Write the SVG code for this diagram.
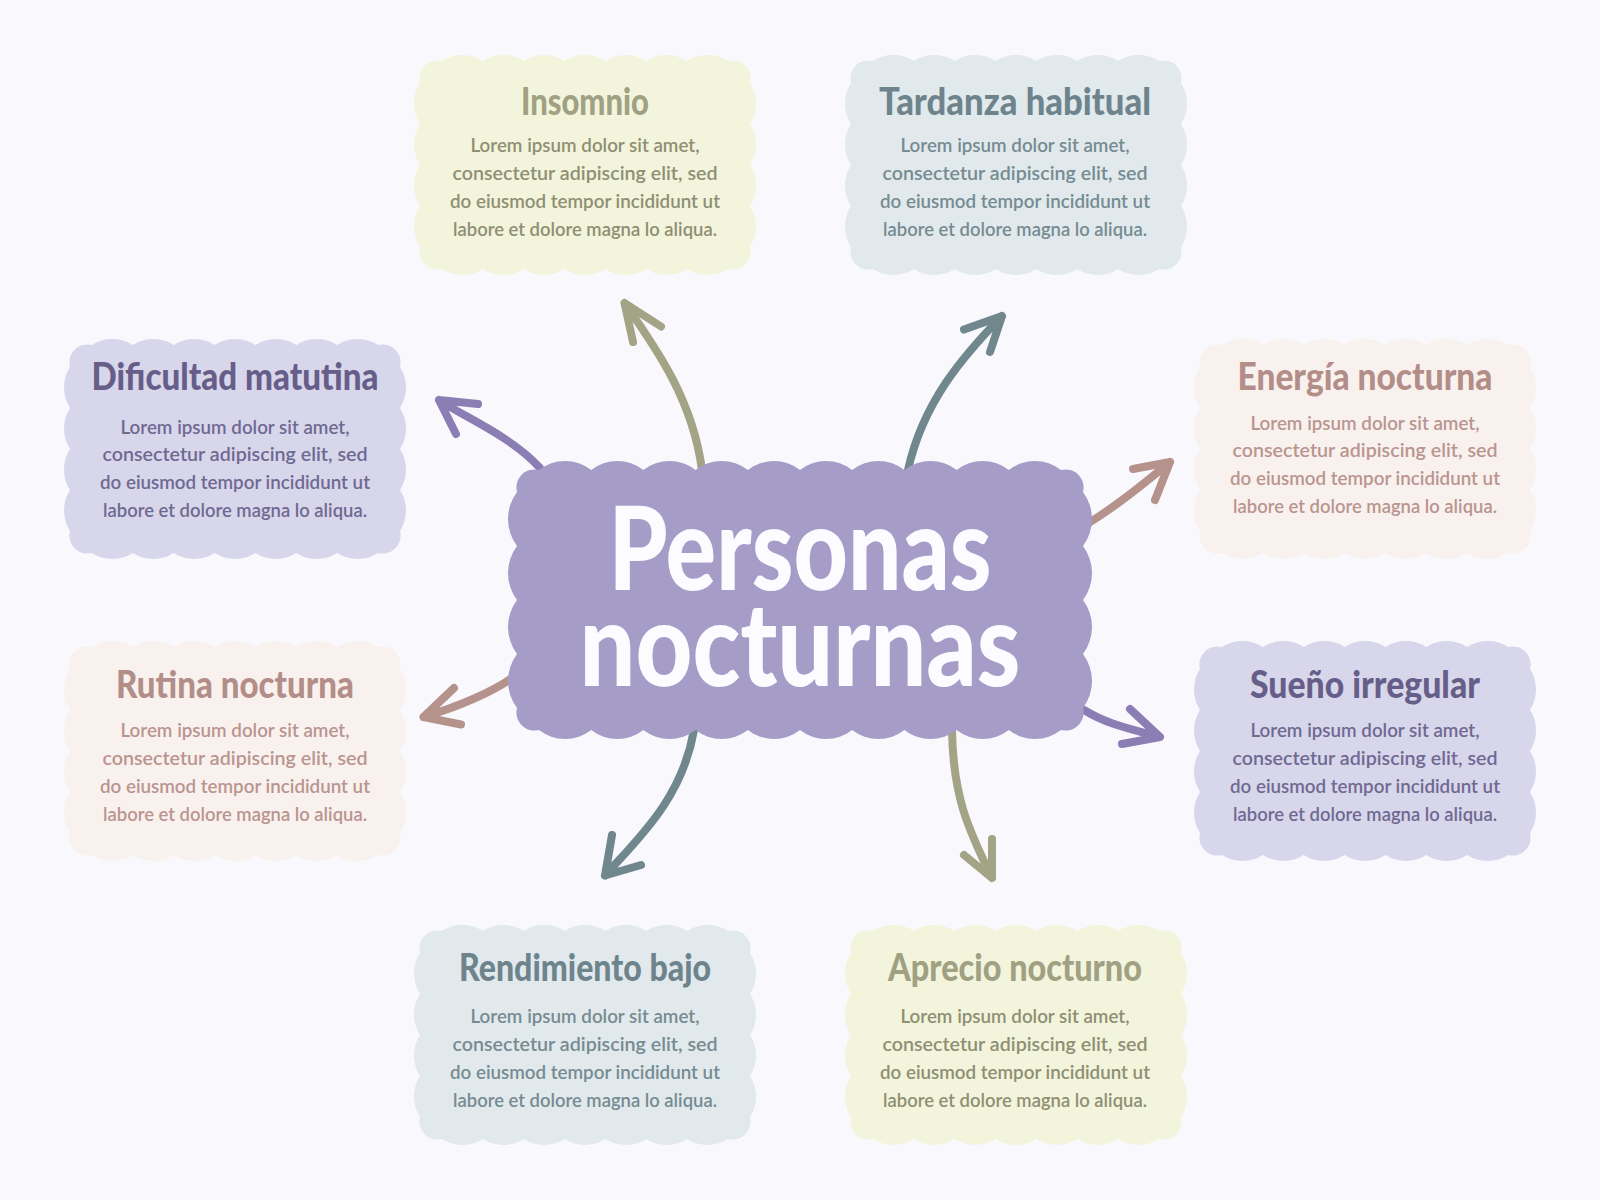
<svg xmlns="http://www.w3.org/2000/svg" xmlns:xlink="http://www.w3.org/1999/xlink" width="1600" height="1200" viewBox="0 0 1600 1200">
  <style>
    .t { font-family: Lato, "Open Sans", "Liberation Sans", sans-serif; font-weight: 900; font-size: 37px; text-anchor: middle; }
    .b { font-family: Lato, "Open Sans", "Liberation Sans", sans-serif; font-weight: 600; font-size: 19px; text-anchor: middle; }
    .ct { font-family: Lato, "Open Sans", "Liberation Sans", sans-serif; font-weight: 900; font-size: 116px; text-anchor: middle; fill: #FCFBFF; }
    .lav .shape { fill: #D8D6EB; } .lav .t { fill: #665E88; } .lav .b { fill: #6F6992; }
    .sla .shape { fill: #E1E9EC; } .sla .t { fill: #6E848C; } .sla .b { fill: #768B92; }
    .oli .shape { fill: #F3F4DC; } .oli .t { fill: #A0A183; } .oli .b { fill: #8E8F73; }
    .ros .shape { fill: #F9F1EE; } .ros .t { fill: #B38E88; } .ros .b { fill: #B9958F; }
    .c { fill: none; stroke-width: 8; stroke-linecap: round; stroke-linejoin: round; }
    .cp { stroke: #8A7EB4; } .co { stroke: #A3A385; } .cs { stroke: #70878E; } .cr { stroke: #B5938C; }
  </style>
  <defs>
    <path id="nodeShape" d="M28,6 a37.8,37.8 0 0 1 40.857,0 a37.8,37.8 0 0 1 40.857,0 a37.8,37.8 0 0 1 40.857,0 a37.8,37.8 0 0 1 40.857,0 a37.8,37.8 0 0 1 40.857,0 a37.8,37.8 0 0 1 40.857,0 a37.8,37.8 0 0 1 40.857,0 a18,18 0 0 1 22,22 a38,38 0 0 1 0,41 a38,38 0 0 1 0,41 a38,38 0 0 1 0,41 a38,38 0 0 1 0,41 a18,18 0 0 1 -22,22 a37.8,37.8 0 0 1 -40.857,0 a37.8,37.8 0 0 1 -40.857,0 a37.8,37.8 0 0 1 -40.857,0 a37.8,37.8 0 0 1 -40.857,0 a37.8,37.8 0 0 1 -40.857,0 a37.8,37.8 0 0 1 -40.857,0 a37.8,37.8 0 0 1 -40.857,0 a18,18 0 0 1 -22,-22 a38,38 0 0 1 0,-41 a38,38 0 0 1 0,-41 a38,38 0 0 1 0,-41 a38,38 0 0 1 0,-41 a18,18 0 0 1 22,-22 Z"/>
  </defs>
  <rect width="1600" height="1200" fill="#F9F9FD"/>

  <g id="connectors">
    <path class="c cp" d="M540,468 C511,436 464,417 439,400 M478,404 L439,400 L456,434"/>
    <path class="c co" d="M702,470 C693,402 659,352 624.5,303 M661,326.5 L624.5,303 L633,342"/>
    <path class="c cs" d="M908,470 C923,402 963.5,355.6 1002,316 M964,329.6 L1002,316 L990,352"/>
    <path class="c cr" d="M1080,528 C1112,510 1147,481 1170,462 M1133,469 L1170,462 L1155,500"/>
    <path class="c cp" d="M1084,710 C1110,726 1136,730 1160,737 M1130,709 L1160,737 L1122,744"/>
    <path class="c co" d="M952,730 C953,800 970.5,833 992,878 M992,839 L992,878 L964,855"/>
    <path class="c cs" d="M694,730 C682,799 638.5,838 605,875.5 M612,835 L605,875.5 L641,865"/>
    <path class="c cr" d="M520,672 C495,692.5 452,708.6 423.5,717 M454,688 L423.5,717 L461,724.5"/>
  </g>

  <g id="center">
    <path fill="#A59CC7" transform="translate(508,461)" d="M31,9 a42.3,42.3 0 0 1 52.2,0 a42.3,42.3 0 0 1 52.2,0 a42.3,42.3 0 0 1 52.2,0 a42.3,42.3 0 0 1 52.2,0 a42.3,42.3 0 0 1 52.2,0 a42.3,42.3 0 0 1 52.2,0 a42.3,42.3 0 0 1 52.2,0 a42.3,42.3 0 0 1 52.2,0 a42.3,42.3 0 0 1 52.2,0 a42.3,42.3 0 0 1 52.2,0 a18,18 0 0 1 22,22 a45,45 0 0 1 0,54 a45,45 0 0 1 0,54 a45,45 0 0 1 0,54 a45,45 0 0 1 0,54 a18,18 0 0 1 -22,22 a42.3,42.3 0 0 1 -52.2,0 a42.3,42.3 0 0 1 -52.2,0 a42.3,42.3 0 0 1 -52.2,0 a42.3,42.3 0 0 1 -52.2,0 a42.3,42.3 0 0 1 -52.2,0 a42.3,42.3 0 0 1 -52.2,0 a42.3,42.3 0 0 1 -52.2,0 a42.3,42.3 0 0 1 -52.2,0 a42.3,42.3 0 0 1 -52.2,0 a42.3,42.3 0 0 1 -52.2,0 a18,18 0 0 1 -22,-22 a45,45 0 0 1 0,-54 a45,45 0 0 1 0,-54 a45,45 0 0 1 0,-54 a45,45 0 0 1 0,-54 a18,18 0 0 1 22,-22 Z"/>
    <text class="ct" x="800" y="590" textLength="383" lengthAdjust="spacingAndGlyphs">Personas</text>
    <text class="ct" x="800" y="686" textLength="441" lengthAdjust="spacingAndGlyphs">nocturnas</text>
  </g>

  <g id="insomnio" class="oli">
    <use class="shape" xlink:href="#nodeShape" href="#nodeShape" transform="translate(414,55)"/>
    <text class="t" x="585" y="115" textLength="128" lengthAdjust="spacingAndGlyphs">Insomnio</text>
    <text class="b" x="585" y="152" textLength="229" lengthAdjust="spacingAndGlyphs">Lorem ipsum dolor sit amet,</text>
    <text class="b" x="585" y="180" textLength="265" lengthAdjust="spacingAndGlyphs">consectetur adipiscing elit, sed</text>
    <text class="b" x="585" y="208" textLength="270" lengthAdjust="spacingAndGlyphs">do eiusmod tempor incididunt ut</text>
    <text class="b" x="585" y="236" textLength="264" lengthAdjust="spacingAndGlyphs">labore et dolore magna lo aliqua.</text>
  </g>

  <g id="tardanza" class="sla">
    <use class="shape" xlink:href="#nodeShape" href="#nodeShape" transform="translate(845,55)"/>
    <text class="t" x="1015" y="115" textLength="272" lengthAdjust="spacingAndGlyphs">Tardanza habitual</text>
    <text class="b" x="1015" y="152" textLength="229" lengthAdjust="spacingAndGlyphs">Lorem ipsum dolor sit amet,</text>
    <text class="b" x="1015" y="180" textLength="265" lengthAdjust="spacingAndGlyphs">consectetur adipiscing elit, sed</text>
    <text class="b" x="1015" y="208" textLength="270" lengthAdjust="spacingAndGlyphs">do eiusmod tempor incididunt ut</text>
    <text class="b" x="1015" y="236" textLength="264" lengthAdjust="spacingAndGlyphs">labore et dolore magna lo aliqua.</text>
  </g>

  <g id="dificultad" class="lav">
    <use class="shape" xlink:href="#nodeShape" href="#nodeShape" transform="translate(64,339)"/>
    <text class="t" x="235" y="390" textLength="287" lengthAdjust="spacingAndGlyphs">Dificultad matutina</text>
    <text class="b" x="235" y="434" textLength="229" lengthAdjust="spacingAndGlyphs">Lorem ipsum dolor sit amet,</text>
    <text class="b" x="235" y="461" textLength="265" lengthAdjust="spacingAndGlyphs">consectetur adipiscing elit, sed</text>
    <text class="b" x="235" y="489" textLength="270" lengthAdjust="spacingAndGlyphs">do eiusmod tempor incididunt ut</text>
    <text class="b" x="235" y="517" textLength="264" lengthAdjust="spacingAndGlyphs">labore et dolore magna lo aliqua.</text>
  </g>

  <g id="energia" class="ros">
    <use class="shape" xlink:href="#nodeShape" href="#nodeShape" transform="translate(1194,339)"/>
    <text class="t" x="1365" y="390" textLength="255" lengthAdjust="spacingAndGlyphs">Energía nocturna</text>
    <text class="b" x="1365" y="430" textLength="229" lengthAdjust="spacingAndGlyphs">Lorem ipsum dolor sit amet,</text>
    <text class="b" x="1365" y="457" textLength="265" lengthAdjust="spacingAndGlyphs">consectetur adipiscing elit, sed</text>
    <text class="b" x="1365" y="485" textLength="270" lengthAdjust="spacingAndGlyphs">do eiusmod tempor incididunt ut</text>
    <text class="b" x="1365" y="513" textLength="264" lengthAdjust="spacingAndGlyphs">labore et dolore magna lo aliqua.</text>
  </g>

  <g id="rutina" class="ros">
    <use class="shape" xlink:href="#nodeShape" href="#nodeShape" transform="translate(64,641)"/>
    <text class="t" x="235" y="698" textLength="238" lengthAdjust="spacingAndGlyphs">Rutina nocturna</text>
    <text class="b" x="235" y="737" textLength="229" lengthAdjust="spacingAndGlyphs">Lorem ipsum dolor sit amet,</text>
    <text class="b" x="235" y="765" textLength="265" lengthAdjust="spacingAndGlyphs">consectetur adipiscing elit, sed</text>
    <text class="b" x="235" y="793" textLength="270" lengthAdjust="spacingAndGlyphs">do eiusmod tempor incididunt ut</text>
    <text class="b" x="235" y="821" textLength="264" lengthAdjust="spacingAndGlyphs">labore et dolore magna lo aliqua.</text>
  </g>

  <g id="sueno" class="lav">
    <use class="shape" xlink:href="#nodeShape" href="#nodeShape" transform="translate(1194,641)"/>
    <text class="t" x="1365" y="698" textLength="230" lengthAdjust="spacingAndGlyphs">Sueño irregular</text>
    <text class="b" x="1365" y="737" textLength="229" lengthAdjust="spacingAndGlyphs">Lorem ipsum dolor sit amet,</text>
    <text class="b" x="1365" y="765" textLength="265" lengthAdjust="spacingAndGlyphs">consectetur adipiscing elit, sed</text>
    <text class="b" x="1365" y="793" textLength="270" lengthAdjust="spacingAndGlyphs">do eiusmod tempor incididunt ut</text>
    <text class="b" x="1365" y="821" textLength="264" lengthAdjust="spacingAndGlyphs">labore et dolore magna lo aliqua.</text>
  </g>

  <g id="rendimiento" class="sla">
    <use class="shape" xlink:href="#nodeShape" href="#nodeShape" transform="translate(414,925)"/>
    <text class="t" x="585" y="981" textLength="252" lengthAdjust="spacingAndGlyphs">Rendimiento bajo</text>
    <text class="b" x="585" y="1023" textLength="229" lengthAdjust="spacingAndGlyphs">Lorem ipsum dolor sit amet,</text>
    <text class="b" x="585" y="1051" textLength="265" lengthAdjust="spacingAndGlyphs">consectetur adipiscing elit, sed</text>
    <text class="b" x="585" y="1079" textLength="270" lengthAdjust="spacingAndGlyphs">do eiusmod tempor incididunt ut</text>
    <text class="b" x="585" y="1107" textLength="264" lengthAdjust="spacingAndGlyphs">labore et dolore magna lo aliqua.</text>
  </g>

  <g id="aprecio" class="oli">
    <use class="shape" xlink:href="#nodeShape" href="#nodeShape" transform="translate(845,925)"/>
    <text class="t" x="1015" y="981" textLength="254" lengthAdjust="spacingAndGlyphs">Aprecio nocturno</text>
    <text class="b" x="1015" y="1023" textLength="229" lengthAdjust="spacingAndGlyphs">Lorem ipsum dolor sit amet,</text>
    <text class="b" x="1015" y="1051" textLength="265" lengthAdjust="spacingAndGlyphs">consectetur adipiscing elit, sed</text>
    <text class="b" x="1015" y="1079" textLength="270" lengthAdjust="spacingAndGlyphs">do eiusmod tempor incididunt ut</text>
    <text class="b" x="1015" y="1107" textLength="264" lengthAdjust="spacingAndGlyphs">labore et dolore magna lo aliqua.</text>
  </g>
</svg>
